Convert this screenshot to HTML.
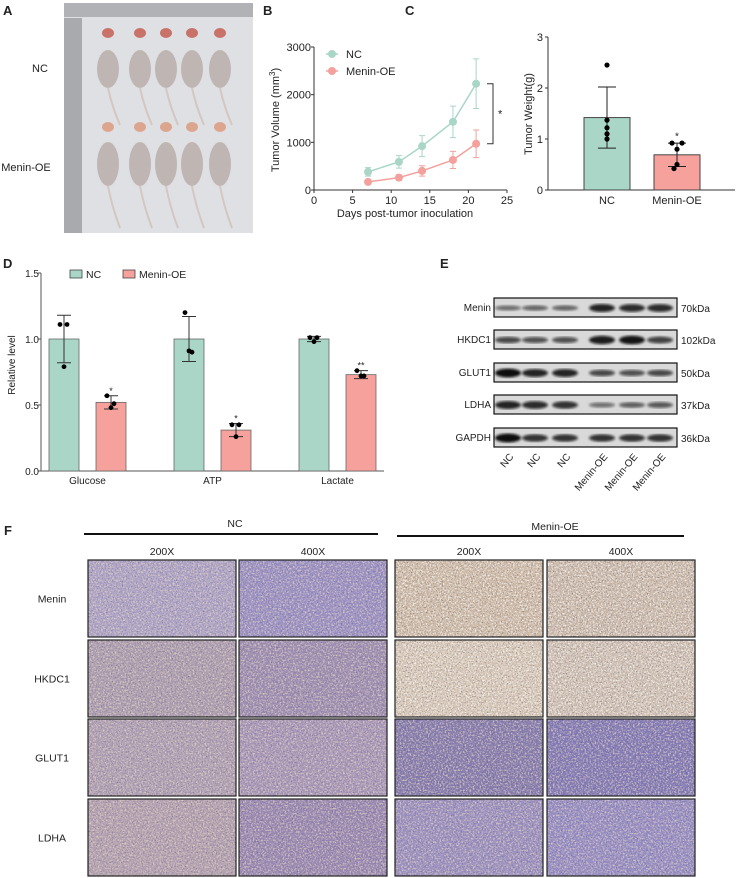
<!DOCTYPE html>
<html><head><meta charset="utf-8">
<style>
body{margin:0;background:#fff;width:738px;height:878px;overflow:hidden;font-family:"Liberation Sans",Arial,sans-serif;}
svg{position:absolute;left:0;top:0;}
text{font-family:"Liberation Sans",Arial,sans-serif;fill:#222;}
</style></head>
<body>
<svg id="fig" width="738" height="878" viewBox="0 0 738 878">
<defs>
<filter id="tex" x="0" y="0" width="100%" height="100%">
<feTurbulence type="fractalNoise" baseFrequency="0.6" numOctaves="2" seed="3" result="n"/>
<feColorMatrix in="n" type="matrix" values="0 0 0 0 1  0 0 0 0 1  0 0 0 0 1  0 0 0 -3.5 1.9" result="a"/>
<feComposite in="SourceGraphic" in2="a" operator="in"/>
</filter>
<filter id="tex2" x="0" y="0" width="100%" height="100%">
<feTurbulence type="fractalNoise" baseFrequency="0.8" numOctaves="1" seed="11" result="n"/>
<feColorMatrix in="n" type="matrix" values="0 0 0 0 0  0 0 0 0 0  0 0 0 0 0  0 0 0 4 -2.2" result="a"/>
<feComposite in="SourceGraphic" in2="a" operator="in"/>
</filter>
<filter id="blur1"><feGaussianBlur stdDeviation="1.2"/></filter>
</defs>
<g id="panelA">
<text x="3" y="15" font-size="13" font-weight="bold">A</text>
<text x="40" y="72" font-size="11" text-anchor="middle">NC</text>
<text x="26" y="171" font-size="11" text-anchor="middle">Menin-OE</text>
<rect x="64" y="3" width="189" height="230" fill="#dfe0e3"/>
<rect x="64" y="3" width="189" height="14" fill="#b0b2b5"/>
<rect x="64" y="18" width="18" height="215" fill="#a8aaad"/>
<g id="mice"></g>
</g>
<g id="panelB"></g>
<g id="panelC"></g>
<g id="panelD"></g>
<g id="panelE"></g>
<g id="panelF"></g>
</svg>
<script>
const NS="http://www.w3.org/2000/svg";
function el(tag,attrs,parent,txt){const e=document.createElementNS(NS,tag);for(const k in attrs)e.setAttribute(k,attrs[k]);if(txt!==undefined)e.textContent=txt;parent.appendChild(e);return e;}
const GREEN="#a9d6c6",RED="#f6a19c",GLINE="#a9d6c6",RLINE="#f4a09c";

// ---------- Panel A mice ----------
const mice=document.getElementById('mice');
const mouseX=[108,140,166,192,220];
[[33,50,88,125],[127,142,186,228]].forEach((r,ri)=>{
 mouseX.forEach((x,i)=>{
  const t=el('ellipse',{cx:x,cy:r[0],rx:6,ry:5,fill:ri?'#dca58e':'#c9726a'},mice);
  
  const tail=el('path',{d:`M${x} ${r[2]} Q${x+4} ${(r[2]+r[3])/2} ${x+12} ${r[3]}`,stroke:'#d3c6c3','stroke-width':2,fill:'none'},mice);
  
  const b=el('ellipse',{cx:x,cy:(r[1]+r[2])/2,rx:11,ry:(r[2]-r[1])/2,fill:'#bfb6b4'},mice);
  
 });
});

// ---------- Panel B ----------
const bDays=[7,11,14,18,21];
const bNC=[380,590,920,1430,2230];
const bNCerr=[90,130,220,330,520];
const bOE=[170,260,400,630,970];
const bOEerr=[40,60,110,180,290];
const bXTicks=[0,5,10,15,20,25];
const bYTicks=[0,1000,2000,3000];
(function(){
 const g=document.getElementById('panelB');
 const X=d=>314+d*(507-314)/25, Y=v=>190-v*(190-47)/3000;
 let t=el('text',{x:263,y:15,'font-size':13,'font-weight':'bold'},g,'B');
 let a=el('path',{d:`M${X(0)} ${Y(3000)} V${Y(0)} H${X(25)}`,stroke:'#333',fill:'none','stroke-width':1},g);
 bYTicks.forEach(v=>{el('line',{x1:X(0)-3,x2:X(0),y1:Y(v),y2:Y(v),stroke:'#333'},g);
  const l=el('text',{x:X(0)-3,y:Y(v)+4,'font-size':11,'text-anchor':'end'},g,v);});
 bXTicks.forEach(v=>{el('line',{x1:X(v),x2:X(v),y1:Y(0),y2:Y(0)+3,stroke:'#333'},g);
  const l=el('text',{x:X(v),y:Y(0)+14,'font-size':11,'text-anchor':'middle'},g,v);});
 t=el('text',{x:405,y:217,'font-size':11,'text-anchor':'middle'},g,'Days post-tumor inoculation');
 t=el('text',{transform:'translate(279,120) rotate(-90)','font-size':11,'text-anchor':'middle'},g);
 t.innerHTML='Tumor Volume (mm<tspan dy="-4" font-size="8">3</tspan><tspan dy="4">)</tspan>';
 [[bNC,bNCerr,GLINE],[bOE,bOEerr,RLINE]].forEach(([vals,err,c],si)=>{
  const p=el('polyline',{points:bDays.map((d,i)=>X(d)+','+Y(vals[i])).join(' '),stroke:c,fill:'none','stroke-width':1.5},g);
  
  bDays.forEach((d,i)=>{
   const e=el('path',{d:`M${X(d)} ${Y(vals[i]+err[i])} V${Y(vals[i]-err[i])} M${X(d)-3} ${Y(vals[i]+err[i])} h6 M${X(d)-3} ${Y(vals[i]-err[i])} h6`,stroke:c,'stroke-width':1,fill:'none'},g);
   
   const m=el('circle',{cx:X(d),cy:Y(vals[i]),r:4,fill:c},g);
   
  });
 });
 [['NC',GLINE,54],['Menin-OE',RLINE,71]].forEach(([n,c,y])=>{
  el('line',{x1:326,x2:338,y1:y,y2:y,stroke:c,'stroke-width':1.5},g);
  const m=el('circle',{cx:332,cy:y,r:4,fill:c},g);
  const l=el('text',{x:346,y:y+4,'font-size':11},g,n);
 });
 const br=el('path',{d:`M487 ${Y(2230)} H493 V${Y(970)} H487`,stroke:'#333',fill:'none'},g);
 t=el('text',{x:498,y:Y(1600)+4,'font-size':11},g,'*');
})();

// ---------- Panel C ----------
const cGroups=['NC','Menin-OE'];
const cMeans=[1.42,0.69];
const cErr=[0.6,0.23];
const cPoints=[[2.45,1.37,1.22,1.1,1.0],[0.92,0.92,0.8,0.5,0.42]];
const cYTicks=[0,1,2,3];
(function(){
 const g=document.getElementById('panelC');
 const Y=v=>190-v*(190-37)/3;
 const AX=548;
 const bx=[584,654],bw=46;
 let t=el('text',{x:405,y:15,'font-size':13,'font-weight':'bold'},g,'C');
 el('path',{d:`M${AX} ${Y(3)} V${Y(0)} H735`,stroke:'#333',fill:'none'},g);
 cYTicks.forEach(v=>{el('line',{x1:AX-3,x2:AX,y1:Y(v),y2:Y(v),stroke:'#333'},g);
  const l=el('text',{x:AX-5,y:Y(v)+4,'font-size':11,'text-anchor':'end'},g,v);});
 t=el('text',{transform:'translate(532,114) rotate(-90)','font-size':11,'text-anchor':'middle'},g,'Tumor Weight(g)');
 cGroups.forEach((n,i)=>{
  const cx=bx[i]+bw/2;
  const r=el('rect',{x:bx[i],y:Y(cMeans[i]),width:bw,height:Y(0)-Y(cMeans[i]),fill:i?RED:GREEN,stroke:'#444','stroke-width':1},g);
  
  const e=el('path',{d:`M${cx} ${Y(cMeans[i]+cErr[i])} V${Y(cMeans[i]-cErr[i])} M${cx-9} ${Y(cMeans[i]+cErr[i])} h18 M${cx-9} ${Y(cMeans[i]-cErr[i])} h18`,stroke:'#222',fill:'none'},g);
  
  cPoints[i].forEach((p,j)=>{const dx=(i===1&&j<2)?(j?5:-5):(i===1&&j>3?-3:0);
   const c=el('circle',{cx:cx+dx,cy:Y(p),r:2.6,fill:'#000'},g);});
  const l=el('text',{x:cx,y:204,'font-size':11,'text-anchor':'middle'},g,n);
 });
 t=el('text',{x:677,y:Y(0.95)-2,'font-size':10,'text-anchor':'middle'},g,'*');
})();

// ---------- Panel D ----------
const dCats=['Glucose','ATP','Lactate'];
const dNC=[1.0,1.0,1.0];
const dNCerr=[0.18,0.17,0.02];
const dOE=[0.52,0.31,0.73];
const dOEerr=[0.05,0.05,0.03];
const dNCpts=[[1.11,1.11,0.79],[1.2,0.9,0.91],[1.01,1.01,0.98]];
const dOEpts=[[0.57,0.51,0.48],[0.35,0.35,0.26],[0.76,0.72,0.72]];
const dStars=['*','*','**'];
const dYTicks=[0,0.5,1.0,1.5];
(function(){
 const g=document.getElementById('panelD');
 const Y=v=>471-v*(471-273)/1.5;
 const X0=41, grp=125, bw=30;
 let t=el('text',{x:3,y:268,'font-size':13,'font-weight':'bold'},g,'D');
 el('path',{d:`M${X0} ${Y(1.5)} V${Y(0)} H384`,stroke:'#555',fill:'none'},g);
 dYTicks.forEach(v=>{el('line',{x1:X0-3,x2:X0,y1:Y(v),y2:Y(v),stroke:'#555'},g);
  const l=el('text',{x:X0-2,y:Y(v)+4,'font-size':10,'text-anchor':'end'},g,v.toFixed(1));});
 t=el('text',{transform:'translate(15,365) rotate(-90)','font-size':10,'text-anchor':'middle'},g,'Relative level');
 dCats.forEach((c,i)=>{
  const xs=[49+i*grp,96+i*grp];
  [[dNC,dNCerr,dNCpts,GREEN],[dOE,dOEerr,dOEpts,RED]].forEach(([m,er,pts,col],s)=>{
   const x=xs[s],cx=x+bw/2;
   const r=el('rect',{x:x,y:Y(m[i]),width:bw,height:Y(0)-Y(m[i]),fill:col,stroke:'#666','stroke-width':0.8},g);
   
   const e=el('path',{d:`M${cx} ${Y(m[i]+er[i])} V${Y(m[i]-er[i])} M${cx-7} ${Y(m[i]+er[i])} h14 M${cx-7} ${Y(m[i]-er[i])} h14`,stroke:'#333',fill:'none'},g);
   
   pts[i].forEach((p,j)=>{const dx=[-4,3,0][j];
    const d=el('circle',{cx:cx+dx,cy:Y(p),r:2.4,fill:'#000'},g);});
   if(s){const st=el('text',{x:cx,y:Y(m[i]+er[i])-2,'font-size':9,'text-anchor':'middle'},g,dStars[i]);}
  });
  const l=el('text',{x:(xs[0]+xs[1]+bw)/2,y:484,'font-size':10,'text-anchor':'middle'},g,c);
 });
 [['NC',GREEN,70],['Menin-OE',RED,123]].forEach(([n,c,x])=>{
  const b=el('rect',{x:x,y:270,width:12,height:8,fill:c,stroke:'#444','stroke-width':0.8},g);
  const l=el('text',{x:x+16,y:278,'font-size':10.5},g,n);
 });
})();

// ---------- Panel E ----------
const eProteins=['Menin','HKDC1','GLUT1','LDHA','GAPDH'];
const eSizes=['70kDa','102kDa','50kDa','37kDa','36kDa'];
const eLanes=['NC','NC','NC','Menin-OE','Menin-OE','Menin-OE'];
const eIntensity=[[0.35,0.4,0.4,0.85,0.8,0.8],[0.6,0.55,0.55,0.9,0.95,0.65],[1.0,0.85,0.85,0.6,0.55,0.6],[0.85,0.8,0.75,0.35,0.45,0.5],[1.0,0.75,0.75,0.75,0.75,0.75]];
(function(){
 const g=document.getElementById('panelE');
 let t=el('text',{x:440,y:268,'font-size':13,'font-weight':'bold'},g,'E');
 const rowY=[298,330,363,395,428], lx=[508,535,565,602,632,660];
 eProteins.forEach((p,r)=>{
  const y=rowY[r];
  const box=el('rect',{x:494,y:y,width:183,height:19,fill:'#d9d9d9',stroke:'#111','stroke-width':1.2},g);
  
  eIntensity[r].forEach((v,i)=>{
   const b=el('ellipse',{cx:lx[i],cy:y+10,rx:13,ry:1.5+v*3,fill:'#111','fill-opacity':0.3+v*0.7,filter:'url(#blur1)'},g);
   
  });
  const l=el('text',{x:491,y:y+13,'font-size':10,'text-anchor':'end'},g,p);
  const k=el('text',{x:681,y:y+14,'font-size':10},g,eSizes[r]);
 });
 eLanes.forEach((n,i)=>{
  const l=el('text',{transform:`translate(${lx[i]+6},457) rotate(-50)`,'font-size':10,'text-anchor':'end'},g,n);
  
 });
})();

// ---------- Panel F ----------
const fRows=['Menin','HKDC1','GLUT1','LDHA'];
const fCols=['200X','400X','200X','400X'];
const fColors=[['#aca3c6','#9990c4','#cdb9a6','#cbb9aa'],['#ab9db0','#9d8eb2','#d6c6b6','#cfbfb2'],['#ae9fb4','#a797b8','#857cae','#837bb6'],['#b1a0b0','#9888b2','#9a90c0','#958dc4']];
(function(){
 const g=document.getElementById('panelF');
 let t=el('text',{x:4,y:535,'font-size':13,'font-weight':'bold'},g,'F');
 el('line',{x1:84,x2:378,y1:534,y2:534,stroke:'#111','stroke-width':2},g);
 el('line',{x1:397,x2:684,y1:536,y2:536,stroke:'#111','stroke-width':2},g);
 t=el('text',{x:235,y:527,'font-size':10.5,'text-anchor':'middle'},g,'NC');
 t=el('text',{x:555,y:530,'font-size':10.5,'text-anchor':'middle'},g,'Menin-OE');
 const cx=[88,239,395,547], ry=[560,640,719,799], w=148, h=77;
 fCols.forEach((c,i)=>{const l=el('text',{x:cx[i]+w/2,y:555,'font-size':10.5,'text-anchor':'middle'},g,c);});
 fRows.forEach((r,j)=>{
  const l=el('text',{x:52,y:ry[j]+h/2+4,'font-size':10.5,'text-anchor':'middle'},g,r);
  cx.forEach((x,i)=>{
   const b=el('rect',{x:x,y:ry[j],width:w,height:h,fill:fColors[j][i]},g);
   const n=el('rect',{x:x,y:ry[j],width:w,height:h,fill:(i>=2&&j<2)?'#ffffff':'#ead9c6',filter:'url(#tex)',opacity:0.75},g);
   const d=el('rect',{x:x,y:ry[j],width:w,height:h,fill:(i>=2&&j<2)?'#3a3040':'#4a3f80',filter:'url(#tex2)',opacity:0.5},g);
   el('rect',{x:x,y:ry[j],width:w,height:h,fill:'none',stroke:'#222','stroke-width':1.2},g);
  });
 });
})();
</script>
</body></html>
